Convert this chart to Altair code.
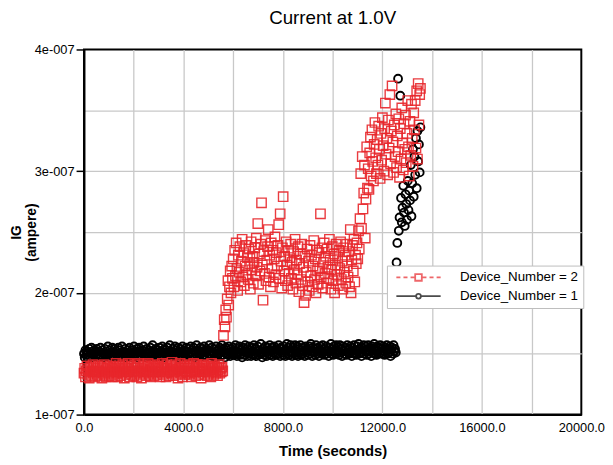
import altair as alt
import pandas as pd

TITLE = "Current at 1.0V"
X_TITLE = "Time (seconds)"
Y_TITLE = ["IG", "(ampere)"]
DEVICE_LABELS = ["Device_Number = 2", "Device_Number = 1"]
DEVICE_COLORS = ["#e8262b", "#000000"]

X_TICKS = [0, 2000, 4000, 6000, 8000, 10000, 12000, 14000, 16000, 18000, 20000]
Y_TICKS = [1.0e-7, 1.5e-7, 2.0e-7, 2.5e-7, 3.0e-7, 3.5e-7, 4.0e-7]

# sample times (seconds), shared by both devices
time_s = [
    0, 30, 60, 90, 120, 150, 180, 210, 240, 270, 300, 330, 360, 390, 420, 450, 480, 510, 540, 570,
    600, 630, 660, 690, 720, 750, 780, 810, 840, 870, 900, 930, 960, 990, 1020, 1050, 1080, 1110, 1140, 1170,
    1200, 1230, 1260, 1290, 1320, 1350, 1380, 1410, 1440, 1470, 1500, 1530, 1560, 1590, 1620, 1650, 1680, 1710, 1740, 1770,
    1800, 1830, 1860, 1890, 1920, 1950, 1980, 2010, 2040, 2070, 2100, 2130, 2160, 2190, 2220, 2250, 2280, 2310, 2340, 2370,
    2400, 2430, 2460, 2490, 2520, 2550, 2580, 2610, 2640, 2670, 2700, 2730, 2760, 2790, 2820, 2850, 2880, 2910, 2940, 2970,
    3000, 3030, 3060, 3090, 3120, 3150, 3180, 3210, 3240, 3270, 3300, 3330, 3360, 3390, 3420, 3450, 3480, 3510, 3540, 3570,
    3600, 3630, 3660, 3690, 3720, 3750, 3780, 3810, 3840, 3870, 3900, 3930, 3960, 3990, 4020, 4050, 4080, 4110, 4140, 4170,
    4200, 4230, 4260, 4290, 4320, 4350, 4380, 4410, 4440, 4470, 4500, 4530, 4560, 4590, 4620, 4650, 4680, 4710, 4740, 4770,
    4800, 4830, 4860, 4890, 4920, 4950, 4980, 5010, 5040, 5070, 5100, 5130, 5160, 5190, 5220, 5250, 5280, 5310, 5340, 5370,
    5400, 5430, 5460, 5490, 5520, 5550, 5580, 5610, 5640, 5670, 5700, 5730, 5760, 5790, 5820, 5850, 5880, 5910, 5940, 5970,
    6000, 6030, 6060, 6090, 6120, 6150, 6180, 6210, 6240, 6270, 6300, 6330, 6360, 6390, 6420, 6450, 6480, 6510, 6540, 6570,
    6600, 6630, 6660, 6690, 6720, 6750, 6780, 6810, 6840, 6870, 6900, 6930, 6960, 6990, 7020, 7050, 7080, 7110, 7140, 7170,
    7200, 7230, 7260, 7290, 7320, 7350, 7380, 7410, 7440, 7470, 7500, 7530, 7560, 7590, 7620, 7650, 7680, 7710, 7740, 7770,
    7800, 7830, 7860, 7890, 7920, 7950, 7980, 8010, 8040, 8070, 8100, 8130, 8160, 8190, 8220, 8250, 8280, 8310, 8340, 8370,
    8400, 8430, 8460, 8490, 8520, 8550, 8580, 8610, 8640, 8670, 8700, 8730, 8760, 8790, 8820, 8850, 8880, 8910, 8940, 8970,
    9000, 9030, 9060, 9090, 9120, 9150, 9180, 9210, 9240, 9270, 9300, 9330, 9360, 9390, 9420, 9450, 9480, 9510, 9540, 9570,
    9600, 9630, 9660, 9690, 9720, 9750, 9780, 9810, 9840, 9870, 9900, 9930, 9960, 9990, 10020, 10050, 10080, 10110, 10140, 10170,
    10200, 10230, 10260, 10290, 10320, 10350, 10380, 10410, 10440, 10470, 10500, 10530, 10560, 10590, 10620, 10650, 10680, 10710, 10740, 10770,
    10800, 10830, 10860, 10890, 10920, 10950, 10980, 11010, 11040, 11070, 11100, 11130, 11160, 11190, 11220, 11250, 11280, 11310, 11340, 11370,
    11400, 11430, 11460, 11490, 11520, 11550, 11580, 11610, 11640, 11670, 11700, 11730, 11760, 11790, 11820, 11850, 11880, 11910, 11940, 11970,
    12000, 12030, 12060, 12090, 12120, 12150, 12180, 12210, 12240, 12270, 12300, 12330, 12360, 12390, 12420, 12450, 12480, 12510, 12540, 12570,
    12600, 12630, 12660, 12690, 12720, 12750, 12780, 12810, 12840, 12870, 12900, 12930, 12960, 12990, 13020, 13050, 13080, 13110, 13140, 13170,
    13200, 13230, 13260, 13290, 13320, 13350, 13380, 13410, 13440, 13470, 13500, 13530,
]

# IG of Device_Number = 1, in units of 1e-7 A
ig_device1_e7 = [
    1.50, 1.47, 1.53, 1.49, 1.52, 1.46, 1.51, 1.54, 1.48, 1.50, 1.55, 1.47, 1.52, 1.49, 1.53, 1.51, 1.48, 1.54, 1.50, 1.47,
    1.52, 1.49, 1.55, 1.48, 1.51, 1.53, 1.47, 1.50, 1.54, 1.49, 1.52, 1.48, 1.56, 1.50, 1.47, 1.53, 1.51, 1.49, 1.55, 1.48,
    1.51, 1.54, 1.47, 1.52, 1.50, 1.48, 1.55, 1.49, 1.53, 1.47, 1.51, 1.56, 1.48, 1.52, 1.50, 1.54, 1.47, 1.51, 1.49, 1.53,
    1.48, 1.55, 1.50, 1.47, 1.53, 1.51, 1.49, 1.56, 1.48, 1.52, 1.50, 1.54, 1.47, 1.51, 1.55, 1.49, 1.52, 1.48, 1.53, 1.50,
    1.56, 1.49, 1.52, 1.47, 1.54, 1.50, 1.48, 1.53, 1.51, 1.55, 1.48, 1.50, 1.57, 1.49, 1.52, 1.47, 1.54, 1.51, 1.48, 1.53,
    1.50, 1.55, 1.48, 1.52, 1.49, 1.56, 1.51, 1.47, 1.54, 1.50, 1.53, 1.48, 1.55, 1.51, 1.49, 1.57, 1.50, 1.52, 1.48, 1.54,
    1.51, 1.49, 1.56, 1.48, 1.53, 1.50, 1.55, 1.47, 1.52, 1.54, 1.49, 1.51, 1.56, 1.48, 1.53, 1.50, 1.47, 1.55, 1.52, 1.49,
    1.54, 1.50, 1.48, 1.56, 1.51, 1.53, 1.49, 1.55, 1.47, 1.52, 1.50, 1.57, 1.48, 1.53, 1.51, 1.49, 1.55, 1.50, 1.54, 1.48,
    1.52, 1.56, 1.49, 1.51, 1.54, 1.48, 1.53, 1.50, 1.57, 1.49, 1.52, 1.55, 1.48, 1.51, 1.54, 1.50, 1.47, 1.56, 1.52, 1.49,
    1.53, 1.50, 1.55, 1.48, 1.52, 1.57, 1.49, 1.54, 1.51, 1.47, 1.55, 1.50, 1.53, 1.49, 1.56, 1.51, 1.48, 1.54, 1.52, 1.50,
    1.55, 1.49, 1.52, 1.57, 1.50, 1.48, 1.54, 1.51, 1.56, 1.49, 1.53, 1.50, 1.47, 1.55, 1.52, 1.49, 1.57, 1.51, 1.54, 1.48,
    1.51, 1.56, 1.50, 1.53, 1.48, 1.55, 1.52, 1.49, 1.57, 1.50, 1.54, 1.48, 1.52, 1.56, 1.49, 1.53, 1.51, 1.58, 1.50, 1.47,
    1.54, 1.51, 1.49, 1.56, 1.52, 1.48, 1.55, 1.50, 1.53, 1.57, 1.49, 1.52, 1.55, 1.48, 1.51, 1.56, 1.50, 1.54, 1.49, 1.53,
    1.50, 1.57, 1.52, 1.48, 1.55, 1.51, 1.54, 1.49, 1.56, 1.52, 1.48, 1.53, 1.58, 1.50, 1.55, 1.49, 1.52, 1.57, 1.51, 1.48,
    1.55, 1.50, 1.53, 1.57, 1.49, 1.52, 1.56, 1.48, 1.54, 1.51, 1.57, 1.49, 1.53, 1.50, 1.55, 1.52, 1.48, 1.56, 1.51, 1.54,
    1.49, 1.53, 1.56, 1.50, 1.58, 1.52, 1.48, 1.55, 1.51, 1.54, 1.49, 1.57, 1.52, 1.50, 1.55, 1.48, 1.53, 1.56, 1.50, 1.52,
    1.57, 1.51, 1.49, 1.54, 1.52, 1.56, 1.50, 1.53, 1.48, 1.55, 1.52, 1.58, 1.50, 1.54, 1.49, 1.56, 1.51, 1.53, 1.57, 1.50,
    1.52, 1.55, 1.49, 1.57, 1.51, 1.54, 1.48, 1.56, 1.52, 1.50, 1.55, 1.53, 1.49, 1.57, 1.51, 1.54, 1.50, 1.56, 1.52, 1.48,
    1.55, 1.51, 1.57, 1.50, 1.53, 1.49, 1.56, 1.52, 1.58, 1.50, 1.54, 1.51, 1.48, 1.55, 1.53, 1.57, 1.50, 1.52, 1.56, 1.49,
    1.53, 1.57, 1.50, 1.55, 1.52, 1.48, 1.56, 1.51, 1.54, 1.58, 1.50, 1.53, 1.49, 1.56, 1.52, 1.55, 1.50, 1.57, 1.51, 1.54,
    1.50, 1.56, 1.52, 1.49, 1.55, 1.53, 1.57, 1.50, 1.54, 1.51, 1.56, 1.48, 1.53, 1.55, 1.50, 1.57, 1.52, 1.54, 1.51,
    2.25, 2.41, 3.76, 2.51, 2.62, 3.62, 2.78, 2.58, 2.70, 2.88, 2.66, 2.55, 2.81, 2.73, 2.60, 2.92, 2.68, 2.84, 2.76, 3.05,
    2.63, 2.90, 3.18, 2.79, 3.12, 2.97, 3.27, 2.86, 3.33, 3.08, 3.22, 2.99, 3.36,
]

# IG of Device_Number = 2, in units of 1e-7 A
ig_device2_e7 = [
    1.34, 1.38, 1.31, 1.36, 1.40, 1.33, 1.37, 1.30, 1.35, 1.39, 1.32, 1.36, 1.41, 1.34, 1.38, 1.31, 1.35, 1.37, 1.33, 1.40,
    1.36, 1.32, 1.39, 1.35, 1.30, 1.38, 1.34, 1.41, 1.33, 1.37, 1.31, 1.36, 1.39, 1.34, 1.32, 1.40, 1.35, 1.38, 1.31, 1.37,
    1.33, 1.39, 1.36, 1.42, 1.34, 1.31, 1.38, 1.35, 1.40, 1.32, 1.37, 1.34, 1.41, 1.36, 1.30, 1.39, 1.33, 1.38, 1.35, 1.42,
    1.37, 1.31, 1.35, 1.40, 1.33, 1.38, 1.36, 1.32, 1.41, 1.34, 1.39, 1.31, 1.36, 1.42, 1.35, 1.33, 1.38, 1.30, 1.37, 1.40,
    1.34, 1.41, 1.36, 1.32, 1.39, 1.35, 1.42, 1.33, 1.37, 1.31, 1.40, 1.36, 1.34, 1.38, 1.32, 1.41, 1.35, 1.39, 1.33, 1.37,
    1.40, 1.35, 1.31, 1.38, 1.36, 1.42, 1.33, 1.39, 1.34, 1.37, 1.31, 1.41, 1.35, 1.38, 1.32, 1.36, 1.40, 1.34, 1.43, 1.37,
    1.32, 1.39, 1.35, 1.41, 1.33, 1.37, 1.30, 1.38, 1.36, 1.42, 1.34, 1.39, 1.31, 1.36, 1.40, 1.33, 1.38, 1.35, 1.41, 1.34,
    1.38, 1.33, 1.40, 1.36, 1.31, 1.39, 1.35, 1.42, 1.34, 1.37, 1.32, 1.41, 1.36, 1.39, 1.33, 1.38, 1.35, 1.30, 1.40, 1.37,
    1.35, 1.41, 1.33, 1.38, 1.36, 1.32, 1.40, 1.34, 1.39, 1.37, 1.31, 1.42, 1.35, 1.38, 1.33, 1.40, 1.36, 1.34, 1.39, 1.32,
    1.37, 1.41, 1.34, 1.38, 1.35, 1.39, 1.36,
    1.65, 1.78, 1.72, 1.86, 1.80,
    1.95, 2.10, 1.90, 2.05, 2.18, 2.00, 2.22, 2.12,
    2.28, 2.05, 2.35, 2.14, 2.41, 2.20, 2.02, 2.31, 2.17, 2.38, 2.09, 2.26, 2.44, 2.13, 2.33, 2.06, 2.22, 2.39, 2.15, 2.29,
    2.11, 2.36, 2.24, 2.03, 2.42, 2.19, 2.30, 2.08, 2.25, 2.37, 2.14, 2.45, 2.21, 2.57, 2.07, 2.32, 2.18, 2.40, 2.74, 2.23,
    1.94, 2.34, 2.16, 2.43, 2.10, 2.27, 2.38, 2.52, 2.13, 2.31, 2.05, 2.41, 2.20, 2.35, 2.09, 2.28, 2.46, 2.15, 2.33, 2.22,
    2.39, 2.56, 2.12, 2.65, 2.26, 2.04, 2.37, 2.79, 2.18, 2.30, 2.10, 2.42, 2.23, 2.06, 2.35, 2.16, 2.29, 2.40, 2.12, 2.25,
    2.03, 2.34, 2.19, 2.44, 2.08, 2.27, 2.15, 2.38, 2.01, 2.24, 2.32, 2.11, 2.40, 2.06, 2.21, 1.92, 2.30, 1.98, 2.17, 2.36,
    2.09, 2.26, 2.02, 2.39, 2.14, 2.31, 2.05, 2.22, 2.43, 2.11, 2.28, 2.00, 2.35, 2.18, 2.07, 2.33, 2.20, 2.65, 2.13, 2.37,
    2.04, 2.25, 2.41, 2.16, 2.30, 2.08, 2.36, 2.21, 2.12, 2.44, 2.27, 2.03, 2.19, 2.38, 2.10, 2.32, 2.00, 2.23, 2.40, 2.15,
    2.29, 2.06, 2.35, 2.20, 2.42, 2.11, 2.26, 2.03, 2.37, 2.17, 2.31, 2.08, 2.40, 2.22, 2.13, 2.34, 2.05, 2.52, 2.00, 2.27,
    2.39, 2.18, 2.44, 2.09, 2.31, 2.24, 2.41,
    2.28, 2.51, 2.36, 2.61, 2.98, 2.53, 3.12, 2.69, 2.82, 3.05, 2.45, 2.77, 3.20, 2.86,
    3.02, 2.85, 3.15, 3.28, 2.96, 3.34, 3.08, 2.92, 3.22, 3.40, 3.11, 2.98, 3.26, 3.05, 3.37, 3.18, 2.94, 3.31, 3.09, 3.44,
    3.21, 3.00, 3.35, 3.56, 3.14, 3.27, 2.97, 3.42, 3.19, 3.63, 3.06, 3.33, 3.70, 3.24, 2.99, 3.38, 3.12, 3.47, 3.03, 3.29,
    3.16, 3.43, 2.95, 3.35, 3.10, 3.52, 3.23, 3.01, 3.39, 3.18, 3.46, 3.07, 3.31, 3.58, 3.20, 2.96, 3.41, 3.13, 3.55, 3.27,
    3.04, 3.48, 3.34, 3.58, 3.19, 3.66, 3.10, 3.72, 3.38, 3.63, 3.68,
]

assert len(ig_device1_e7) == len(time_s), (len(ig_device1_e7), len(time_s))
assert len(ig_device2_e7) == len(time_s), (len(ig_device2_e7), len(time_s))

df = pd.concat(
    [
        pd.DataFrame({"time": time_s, "ig": [v * 1e-7 for v in ig_device1_e7], "device": DEVICE_LABELS[1]}),
        pd.DataFrame({"time": time_s, "ig": [v * 1e-7 for v in ig_device2_e7], "device": DEVICE_LABELS[0]}),
    ],
    ignore_index=True,
)

FONT = "Liberation Sans"
GRID = "#c8c8c8"

x_axis = alt.Axis(
    values=X_TICKS,
    labelExpr="datum.value % 4000 == 0 ? format(datum.value, '.1f') : ''",
    labelOverlap=False,
    labelFlush=False,
    ticks=False,
    labelPadding=7,
    labelFontSize=13,
    labelColor="black",
    titleFontSize=15,
    titleFontWeight="bold",
    titleColor="black",
    titlePadding=9,
    grid=True,
    gridColor={"condition": {"test": "datum.value == 0 || datum.value == 20000", "value": "transparent"}, "value": GRID},
    gridWidth=1.3,
    domainColor="black",
    domainWidth=2,
)

y_axis = alt.Axis(
    values=Y_TICKS,
    labelExpr="abs(datum.value * 1e7 - round(datum.value * 1e7)) < 0.01 ? round(datum.value * 1e7) + 'e-007' : ''",
    labelOverlap=False,
    labelFlush=False,
    tickSize=8,
    tickWidth=1.5,
    tickColor={"condition": {"test": "abs(datum.value * 1e7 - round(datum.value * 1e7)) < 0.01", "value": "black"}, "value": "transparent"},
    labelPadding=2,
    labelFontSize=13,
    labelColor="black",
    titleFontSize=14,
    titleFontWeight="bold",
    titleColor="black",
    titleLineHeight=15,
    titleBaseline="middle",
    titleX=-68,
    titleY=185,
    grid=True,
    gridColor={"condition": {"test": "datum.value < 1.01e-7 || datum.value > 3.99e-7", "value": "transparent"}, "value": GRID},
    gridWidth=1.3,
    domainColor="black",
    domainWidth=2,
)

x_enc = alt.X("time:Q", title=X_TITLE, scale=alt.Scale(domain=[0, 20000], nice=False, zero=False), axis=x_axis)
y_enc = alt.Y("ig:Q", title=Y_TITLE, scale=alt.Scale(domain=[1e-7, 4e-7], nice=False, zero=False), axis=y_axis)

base = alt.Chart(df)

dev1 = base.transform_filter(alt.datum.device == DEVICE_LABELS[1]).mark_point(
    shape="circle", size=64, filled=False, color=DEVICE_COLORS[1], strokeWidth=1.9, opacity=1
).encode(x=x_enc, y=y_enc)

dev2 = base.transform_filter(alt.datum.device == DEVICE_LABELS[0]).mark_point(
    shape="square", size=90, filled=False, color=DEVICE_COLORS[0], strokeWidth=1.4, opacity=0.9
).encode(x=x_enc, y=y_enc)

# legend symbols: dashed line with square, solid line with circle
SYM_DEV2 = ("M-3.74,0H-3.06M-2.54,0H-1.86M-1.34,0H-0.56M0.56,0H1.34M1.86,0H2.54M3.06,0H3.74"
            "M-0.56,-0.56H0.56V0.56H-0.56Z")
SYM_DEV1 = ("M-3.74,0H-0.4M0.4,0H3.74"
            "M-0.4,0A0.4,0.4 0 1,0 0.4,0A0.4,0.4 0 1,0 -0.4,0")

legend = alt.Legend(
    title=None,
    orient="none",
    legendX=307,
    legendY=219,
    fillColor="white",
    strokeColor="#bdbdbd",
    padding=5,
    labelFontSize=13.5,
    labelColor="black",
    labelFont=FONT,
    symbolSize=144,
    symbolStrokeWidth=1.8,
    symbolOffset=20,
    labelOffset=35,
    rowPadding=5,
)

legend_layer = base.transform_filter("false").mark_point(filled=False, strokeWidth=1.8).encode(
    x=x_enc,
    y=y_enc,
    color=alt.Color("device:N", scale=alt.Scale(domain=DEVICE_LABELS, range=DEVICE_COLORS), legend=legend),
    shape=alt.Shape("device:N", scale=alt.Scale(domain=DEVICE_LABELS, range=[SYM_DEV2, SYM_DEV1]), legend=legend),
)

chart = (
    alt.layer(dev1, dev2, legend_layer)
    .properties(
        width=504,
        height=370,
        padding={"left": 2, "top": -2, "right": 0, "bottom": 0},
        title=alt.Title(TITLE, fontSize=19, fontWeight="normal", font=FONT, color="black", offset=16, anchor="middle"),
    )
    .configure(font=FONT)
    .configure_view(stroke="black", strokeWidth=2)
)

chart.save("out.html", embed_options={"renderer": "svg", "actions": False})
